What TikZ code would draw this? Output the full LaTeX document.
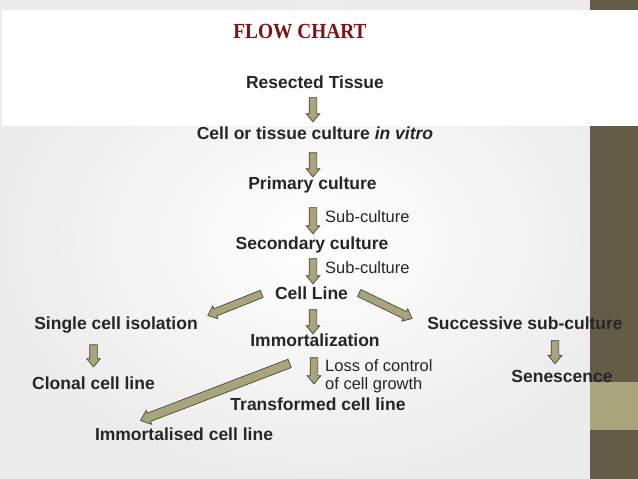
\documentclass[tikz,border=0pt]{standalone}
\usepackage{fontspec}
\setmainfont{Liberation Sans}
\newfontfamily\titlefont[FakeStretch=0.9]{Liberation Serif}
\usepackage{xcolor}
\usetikzlibrary{calc,shapes.arrows}
\definecolor{TitleRed}{RGB}{124,18,20}
\definecolor{TextGray}{RGB}{38,38,38}
\definecolor{ArrowFill}{RGB}{168,164,124}
\definecolor{ArrowEdge}{RGB}{72,70,54}
\definecolor{BarDark}{RGB}{101,92,71}
\definecolor{BarLight}{RGB}{168,164,124}
\definecolor{BgGray}{RGB}{236,236,236}
% block arrow from one point to another
\newcommand{\blockarrow}[3][]{%
  \path let \p1=#2, \p2=#3, \n1={atan2(\y2-\y1,\x2-\x1)}, \n2={veclen(\x2-\x1,\y2-\y1)} in
    node[blockarr, minimum height=\n2, rotate=\n1, #1] at ($(\p1)!0.5!(\p2)$) {};}

\begin{document}
\begin{tikzpicture}[x=1pt, y=-1pt,
    stage/.style={font=\bfseries\fontsize{17.5}{20}\selectfont, text=TextGray, inner sep=0pt, text height=12.5pt, text depth=0pt},
    note/.style={font=\fontsize{16.5}{18}\selectfont, text=TextGray, inner sep=0pt},
    blockarr/.style={single arrow, draw=ArrowEdge, fill=ArrowFill, line width=0.7pt, inner xsep=0pt, inner ysep=3.5pt,
      minimum width=13pt, single arrow head extend=3pt, single arrow tip angle=80, single arrow head indent=0pt}]
  % slide background
  \shade[inner color=white, outer color=BgGray] (0,0) rectangle (638,479);
  \fill[white] (2,10) rectangle (638,126);
  \fill[BarDark] (590,0) rectangle (638,10);
  \fill[BarDark] (590,126) rectangle (638,382);
  \fill[BarLight] (590,382) rectangle (638,430);
  \fill[BarDark] (590,430) rectangle (638,479);

  \node[font=\titlefont\bfseries\fontsize{21.5}{24}\selectfont, text=TitleRed, inner sep=0pt, text height=14.2pt, text depth=0pt] (title) at (300,31) {FLOW CHART};

  % main chain
  \node[stage] (tissue) at (315,82) {Resected Tissue};
  \node[stage] (culture) at (315,133) {Cell or tissue culture \textit{in vitro}};
  \node[stage] (primary) at (312.5,183) {Primary culture};
  \node[stage] (secondary) at (312,243) {Secondary culture};
  \node[stage] (cellline) at (311.5,293) {Cell Line};
  \node[stage] (immort) at (315,340) {Immortalization};
  \node[stage] (transformed) at (318,404) {Transformed cell line};
  \node[stage] (immortalised) at (184,434) {Immortalised cell line};
  % side branches
  \node[stage] (single) at (116,323) {Single cell isolation};
  \node[stage] (clonal) at (93.5,383) {Clonal cell line};
  \node[stage] (successive) at (525,323) {Successive sub-culture};
  \node[stage] (senescence) at (562,376) {Senescence};

  \node[note, anchor=west, text height=11.8pt, text depth=0pt] (sub1) at (325,217) {Sub-culture};
  \node[note, anchor=west, text height=11.8pt, text depth=0pt] (sub2) at (325,268) {Sub-culture};
  \node[note, align=left, anchor=north west] (loss) at (325,359) {Loss of control\\of cell growth};

  % arrows
  \blockarrow{($(tissue.south)+(-2,7)$)}{($(tissue.south |- culture.north)+(-2,-7)$)}
  \blockarrow{($(culture.south)+(-2,11)$)}{($(culture.south |- primary.north)+(-2,-2)$)}
  \blockarrow{($(primary.south)+(0.5,16)$)}{($(primary.south |- secondary.north)+(0.5,-5)$)}
  \blockarrow{($(secondary.south)+(1,7)$)}{($(secondary.south |- cellline.north)+(1,-5)$)}
  \blockarrow{($(cellline.south)+(1.5,8)$)}{($(cellline.south |- immort.north)+(1.5,-2)$)}
  \blockarrow{($(cellline.west)+(-11,0)$)}{($(single.north east)+(12,-2)$)}
  \blockarrow{($(cellline.east)+(9,-1)$)}{($(successive.north west)+(-17,1)$)}
  \blockarrow{($(clonal.north |- single.south)+(0,13)$)}{($(clonal.north)+(0,-12)$)}
  \blockarrow{($(successive.south)+(30,9)$)}{($(successive.south -| senescence.north)+(-7,32)$)}
  \blockarrow{($(immort.south)+(-1,9)$)}{($(immort.south |- transformed.north)+(-1,-16)$)}
  \blockarrow[minimum width=15pt, inner ysep=4pt]{($(immort.south west)+(42,16)$)}{($(immortalised.north)+(-41,-8)$)}
\end{tikzpicture}
\end{document}
